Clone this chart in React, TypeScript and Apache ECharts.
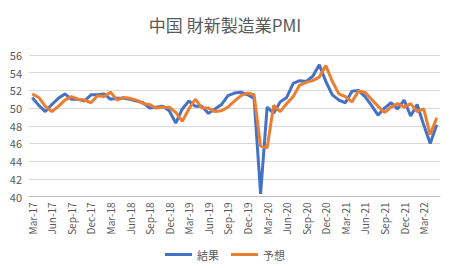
import React, { useEffect, useRef } from "react";
import * as echarts from "echarts";

const categories = [
  "Mar-17","Apr-17","May-17","Jun-17","Jul-17","Aug-17","Sep-17","Oct-17","Nov-17","Dec-17",
  "Jan-18","Feb-18","Mar-18","Apr-18","May-18","Jun-18","Jul-18","Aug-18","Sep-18","Oct-18","Nov-18","Dec-18",
  "Jan-19","Feb-19","Mar-19","Apr-19","May-19","Jun-19","Jul-19","Aug-19","Sep-19","Oct-19","Nov-19","Dec-19",
  "Jan-20","Feb-20","Mar-20","Apr-20","May-20","Jun-20","Jul-20","Aug-20","Sep-20","Oct-20","Nov-20","Dec-20",
  "Jan-21","Feb-21","Mar-21","Apr-21","May-21","Jun-21","Jul-21","Aug-21","Sep-21","Oct-21","Nov-21","Dec-21",
  "Jan-22","Feb-22","Mar-22","Apr-22","May-22",
];

const actual = [
  51.2, 50.3, 49.6, 50.4, 51.1, 51.6, 51.0, 51.0, 50.8, 51.5,
  51.5, 51.6, 51.0, 51.1, 51.1, 51.0, 50.8, 50.6, 50.0, 50.1, 50.2, 49.7,
  48.3, 49.9, 50.8, 50.2, 50.2, 49.4, 49.9, 50.4, 51.4, 51.7, 51.8, 51.5,
  51.1, 40.3, 50.1, 49.4, 50.7, 51.2, 52.8, 53.1, 53.0, 53.6, 54.9, 53.0,
  51.5, 50.9, 50.6, 51.9, 52.0, 51.3, 50.3, 49.2, 50.0, 50.6, 49.9, 50.9,
  49.1, 50.4, 48.1, 46.0, 48.1,
];

const forecast = [
  51.6, 51.2, 50.2, 49.6, 50.2, 50.9, 51.3, 51.0, 50.9, 50.6,
  51.4, 51.3, 51.8, 50.9, 51.2, 51.1, 50.9, 50.5, 50.4, 50.0, 50.1, 50.1,
  49.5, 48.5, 49.9, 51.0, 50.0, 50.0, 49.6, 49.7, 50.1, 50.8, 51.4, 51.7,
  51.5, 45.7, 45.5, 50.3, 49.6, 50.5, 51.3, 52.6, 52.9, 53.1, 53.5, 54.8,
  53.0, 51.6, 51.3, 50.7, 51.9, 51.8, 51.0, 50.2, 49.5, 50.1, 50.5, 50.1,
  50.5, 49.6, 49.9, 47.0, 48.9,
];

const yMin = 40;
const yMax = 56;
const yStep = 2;

export default function App() {
  const ref = useRef<HTMLDivElement>(null);
  useEffect(() => {
    if (!ref.current) return;
    const chart = echarts.init(ref.current, null, { renderer: "svg" });
    const font = "'Noto Sans CJK JP', 'Noto Sans', sans-serif";
    chart.setOption({
      animation: false,
      backgroundColor: "#ffffff",
      title: {
        text: "中国 財新製造業PMI",
        left: "center",
        top: 11,
        textStyle: { fontFamily: font, fontSize: 17, fontWeight: "normal", color: "#595959" },
      },
      grid: { left: 29, right: 10, top: 55, bottom: 71.5, containLabel: false },
      legend: {
        bottom: 3,
        left: "center",
        itemWidth: 27,
        itemHeight: 3,
        itemGap: 12,
        icon: "rect",
        textStyle: { fontFamily: font, fontSize: 11, color: "#595959" },
        data: ["結果", "予想"],
      },
      xAxis: {
        type: "category",
        data: categories,
        boundaryGap: true,
        axisLine: { lineStyle: { color: "#bfbfbf" } },
        axisTick: { interval: 2, length: 5, lineStyle: { color: "#bfbfbf" } },
        axisLabel: {
          interval: 2,
          rotate: 90,
          fontFamily: font,
          fontSize: 10,
          color: "#595959",
          margin: 6,
        },
      },
      yAxis: {
        type: "value",
        min: yMin,
        max: yMax,
        interval: yStep,
        axisLine: { show: false },
        axisTick: { show: false },
        axisLabel: { fontFamily: font, fontSize: 11, color: "#595959", margin: 7 },
        splitLine: { lineStyle: { color: "#d9d9d9" } },
      },
      series: [
        {
          name: "結果",
          type: "line",
          data: actual,
          showSymbol: false,
          lineStyle: { width: 3, color: "#4472c4" },
          itemStyle: { color: "#4472c4" },
        },
        {
          name: "予想",
          type: "line",
          data: forecast,
          showSymbol: false,
          lineStyle: { width: 3, color: "#ed7d31" },
          itemStyle: { color: "#ed7d31" },
        },
      ],
    });
    return () => chart.dispose();
  }, []);
  return <div ref={ref} style={{ width: 450, height: 268, position: "absolute", left: 0, top: 0 }} />;
}
